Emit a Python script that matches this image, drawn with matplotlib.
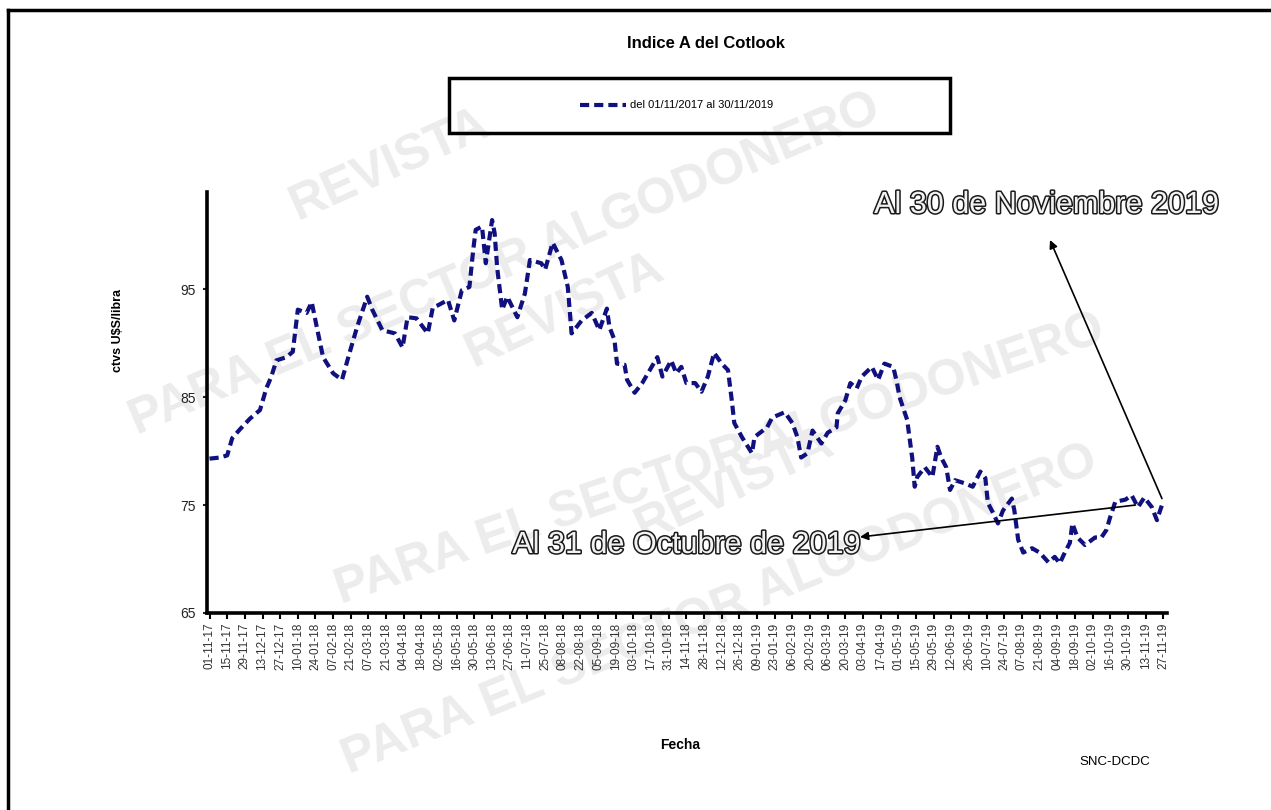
import numpy as np
import pandas as pd
import matplotlib
matplotlib.use("Agg")
import matplotlib.pyplot as plt
import matplotlib.patheffects as pe
from matplotlib.lines import Line2D
from matplotlib.patches import Rectangle

plt.rcParams['font.family'] = ['Liberation Sans', 'DejaVu Sans']

# Cotlook A index, ctvs U$S/libra
fechas = [
    "2017-11-01", "2017-11-09", "2017-11-15", "2017-11-19", "2017-11-25", "2017-12-03",
    "2017-12-11", "2017-12-16", "2017-12-20", "2017-12-24", "2018-01-01", "2018-01-06",
    "2018-01-10", "2018-01-17", "2018-01-21", "2018-01-25", "2018-01-30", "2018-02-07",
    "2018-02-14", "2018-02-20", "2018-02-26", "2018-03-06", "2018-03-10", "2018-03-18",
    "2018-03-28", "2018-04-03", "2018-04-07", "2018-04-14", "2018-04-23", "2018-04-27",
    "2018-05-01", "2018-05-09", "2018-05-14", "2018-05-20", "2018-05-26", "2018-05-29",
    "2018-05-31", "2018-06-05", "2018-06-08", "2018-06-13", "2018-06-15", "2018-06-17",
    "2018-06-21", "2018-06-25", "2018-07-03", "2018-07-09", "2018-07-13", "2018-07-22",
    "2018-07-25", "2018-07-31", "2018-08-07", "2018-08-12", "2018-08-15", "2018-08-23",
    "2018-08-31", "2018-09-06", "2018-09-12", "2018-09-14", "2018-09-18", "2018-09-20",
    "2018-09-26", "2018-09-28", "2018-10-04", "2018-10-10", "2018-10-16", "2018-10-22",
    "2018-10-26", "2018-11-02", "2018-11-06", "2018-11-10", "2018-11-14", "2018-11-21",
    "2018-11-26", "2018-12-01", "2018-12-06", "2018-12-12", "2018-12-17", "2018-12-20",
    "2018-12-22", "2018-12-28", "2019-01-05", "2019-01-07", "2019-01-17", "2019-01-21",
    "2019-01-31", "2019-02-06", "2019-02-10", "2019-02-13", "2019-02-18", "2019-02-22",
    "2019-03-01", "2019-03-06", "2019-03-13", "2019-03-14", "2019-03-20", "2019-03-24",
    "2019-03-29", "2019-04-02", "2019-04-10", "2019-04-15", "2019-04-20", "2019-04-27",
    "2019-04-30", "2019-05-02", "2019-05-08", "2019-05-12", "2019-05-14", "2019-05-16",
    "2019-05-22", "2019-05-28", "2019-06-01", "2019-06-04", "2019-06-08", "2019-06-11",
    "2019-06-15", "2019-06-23", "2019-06-29", "2019-07-05", "2019-07-09", "2019-07-11",
    "2019-07-15", "2019-07-19", "2019-07-23", "2019-07-30", "2019-08-01", "2019-08-04",
    "2019-08-08", "2019-08-15", "2019-08-21", "2019-08-28", "2019-09-02", "2019-09-06",
    "2019-09-10", "2019-09-14", "2019-09-16", "2019-09-20", "2019-09-26", "2019-10-04",
    "2019-10-09", "2019-10-13", "2019-10-16", "2019-10-20", "2019-10-28", "2019-11-02",
    "2019-11-07", "2019-11-12", "2019-11-18", "2019-11-22", "2019-11-26", "2019-11-29",
]
valores = [
    79.3, 79.4, 79.6, 81.2, 82.0, 83.0,
    83.8, 85.8, 86.9, 88.4, 88.7, 89.2,
    93.1, 92.8, 93.8, 91.5, 88.7, 87.2,
    86.6, 89.1, 91.5, 94.3, 93.1, 91.2,
    90.9, 89.6, 92.4, 92.3, 90.9, 93.3,
    93.5, 94.0, 92.1, 94.9, 95.2, 98.6,
    100.5, 100.8, 97.4, 101.4, 100.2, 97.0,
    93.1, 94.3, 92.4, 94.6, 97.7, 97.4,
    96.8, 99.3, 97.7, 95.2, 90.9, 92.1,
    92.8, 91.2, 93.2, 91.5, 90.3, 88.1,
    88.0, 86.6, 85.4, 86.3, 87.5, 88.7,
    86.9, 88.4, 87.2, 87.8, 86.3, 86.3,
    85.5, 86.9, 89.1, 88.1, 87.5, 84.7,
    82.6, 81.3, 79.8, 81.3, 82.2, 83.1,
    83.6, 82.6, 81.3, 79.4, 79.8, 81.9,
    80.7, 81.7, 82.2, 83.5, 84.7, 86.3,
    85.8, 86.9, 87.8, 86.6, 88.1, 87.8,
    86.3, 85.0, 82.9, 79.4, 76.7, 77.6,
    78.5, 77.6, 80.4, 79.4, 78.5, 76.4,
    77.3, 77.0, 76.7, 78.1, 77.5, 75.2,
    74.3, 73.3, 74.5, 75.6, 74.5, 71.8,
    70.6, 71.0, 70.6, 69.7, 70.2, 69.6,
    70.6, 71.5, 73.3, 72.0, 71.3, 72.0,
    72.0, 72.7, 73.9, 75.3, 75.5, 75.9,
    74.8, 75.7, 74.8, 73.6, 75.0, 75.2,
]
y_ticks = [65, 75, 85, 95]

title = "Indice A del Cotlook"
serie = "del 01/11/2017 al 30/11/2019"
nota_oct = "Al 31 de Octubre de 2019"
nota_nov = "Al 30 de Noviembre 2019"

fechas = pd.to_datetime(fechas)
x_ticks = pd.date_range("2017-11-01", "2019-11-27", freq="14D")
navy = "#10107e"

fig = plt.figure(figsize=(12.71, 8.10), dpi=100)
W, H = 1271, 810

# watermark (light grey, behind everything)
marcas = [
    ("REVISTA", 390, 165, 24),
    ("PARA EL SECTOR ALGODONERO", 505, 265, 23),
    ("REVISTA", 565, 310, 25),
    ("PARA EL SECTOR ALGODONERO", 720, 460, 19),
    ("REVISTA", 735, 485, 25),
    ("PARA EL SECTOR ALGODONERO", 720, 610, 22),
]
for txt, px, py, ang in marcas:
    fig.text(px / W, 1 - py / H, txt, fontsize=36, fontweight="bold",
             color="#ececec", rotation=ang, ha="center", va="center", zorder=-5)

# outer frame (top and left edges visible)
fig.add_artist(Line2D([8 / W, 1.0], [1 - 10 / H, 1 - 10 / H], color="black", lw=2.5))
fig.add_artist(Line2D([8 / W, 8 / W], [0.0, 1 - 10 / H], color="black", lw=2.5))

ax = fig.add_axes([207 / W, 1 - 613 / H, 960 / W, 421 / H])
ax.set_facecolor("none")
ax.plot(fechas, valores, color=navy, lw=3, dashes=(2.2, 1.2), solid_capstyle="butt")

ax.set_xlim(pd.Timestamp("2017-10-30"), pd.Timestamp("2019-11-30"))
ax.set_ylim(65, 104)
ax.set_yticks(y_ticks)
ax.set_xticks(x_ticks)
ax.set_xticklabels([d.strftime("%d-%m-%y") for d in x_ticks], rotation=90,
                   fontsize=8.5, color="#333333")
ax.tick_params(axis="y", labelsize=10, length=3, width=1.5, pad=5, colors="#222222")
ax.tick_params(axis="x", length=4, width=1.5, pad=3)
for s in ["top", "right"]:
    ax.spines[s].set_visible(False)
for s in ["left", "bottom"]:
    ax.spines[s].set_linewidth(2.6)

fig.text(706 / W, 1 - 44 / H, title, fontsize=12, fontweight="bold", ha="center", va="center")
fig.text(118 / W, 1 - 330 / H, "ctvs U$S/libra", fontsize=9, fontweight="bold",
         rotation=90, ha="center", va="center")
fig.text(680 / W, 1 - 745 / H, "Fecha", fontsize=10, fontweight="bold", ha="center", va="center")
fig.text(1115 / W, 1 - 762 / H, "SNC-DCDC", fontsize=9.5, ha="center", va="center")

# legend box
fig.add_artist(Rectangle((449 / W, 1 - 133 / H), 501 / W, 55 / H, transform=fig.transFigure,
                         fill=False, edgecolor="black", lw=2.5))
fig.add_artist(Line2D([580 / W, 626 / W], [1 - 105 / H, 1 - 105 / H], color=navy, lw=3,
                      dashes=(2.2, 1.2)))
fig.text(630 / W, 1 - 105 / H, serie, fontsize=8, ha="left", va="center")

# big outlined notes with arrows
efecto = [pe.withStroke(linewidth=2.2, foreground="#1a1a1a")]
fig.text(686 / W, 1 - 545 / H, nota_oct, fontsize=22,
         color="#f2f2f2", ha="center", va="center", path_effects=efecto)
fig.text(1046 / W, 1 - 205 / H, nota_nov, fontsize=22,
         color="#f2f2f2", ha="center", va="center", path_effects=efecto)

ax.annotate("", xy=(860 / W, 1 - 537 / H), xycoords="figure fraction",
            xytext=(pd.Timestamp("2019-11-05"), 75.0), textcoords="data",
            arrowprops=dict(arrowstyle="-|>", color="black", lw=1.2, mutation_scale=12,
                            shrinkA=0, shrinkB=0))
ax.annotate("", xy=(1050 / W, 1 - 240 / H), xycoords="figure fraction",
            xytext=(pd.Timestamp("2019-11-26"), 75.6), textcoords="data",
            arrowprops=dict(arrowstyle="-|>", color="black", lw=1.2, mutation_scale=12,
                            shrinkA=0, shrinkB=0))

fig.savefig("out.png", dpi=100)
